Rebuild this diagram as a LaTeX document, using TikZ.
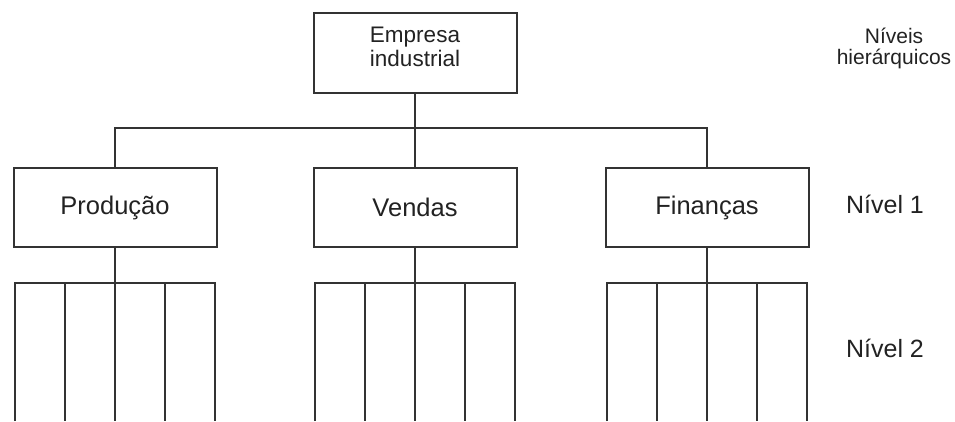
\documentclass[tikz,border=0pt]{standalone}
\usepackage{fontspec}
\setmainfont{Liberation Sans}
\definecolor{ln}{HTML}{333333}
\definecolor{tx}{HTML}{222222}
\begin{document}
\begin{tikzpicture}[x=1pt,y=-1pt,
  box/.style={draw=ln,line width=2pt,minimum width=203pt,minimum height=79pt,inner sep=0pt,text=tx,align=center},
  conn/.style={draw=ln,line width=2pt},
  lbl/.style={text=tx,align=center,inner sep=0pt}]
\useasboundingbox (0,0) rectangle (955,421);
\node[box,minimum width=203pt,minimum height=80pt] (top) at (415,53) {};
\node[lbl,font=\fontsize{22.5}{24}\selectfont] (topt) at (415,47) {Empresa\\industrial};
\node[box,font=\fontsize{25.5}{28}\selectfont] (p) at (115,207.5) {Produção};
\node[box,font=\fontsize{25.5}{28}\selectfont] (v) at (415,207.5) {Vendas};
\node[box,font=\fontsize{25.5}{28}\selectfont] (f) at (707,207.5) {Finanças};
\coordinate (hl) at (115,128);
\coordinate (hr) at (707,128);
\draw[conn] (top.south) -- (top.south |- hl);
\draw[conn] (p.north) -- (hl) -- (hr) -- (f.north);
\draw[conn] (v.north) -- (v.north |- hl);
% level 2
\foreach \n/\cx in {p/115, v/415, f/707} {
  \coordinate (\n-h) at (\cx,283);
  \draw[conn] (\n.south) -- (\n-h);
  \draw[conn] (\cx-100,421) -- (\cx-100,283) -- (\cx+100,283) -- (\cx+100,421);
  \foreach \dx in {-50,0,50} \draw[conn] (\cx+\dx,283) -- (\cx+\dx,421);
}
\node[lbl,font=\fontsize{21}{21}\selectfont] (nh) at (894,48) {Níveis\\hierárquicos};
\node[lbl,font=\fontsize{25}{27}\selectfont,anchor=base] (n1) at (885,213) {Nível 1};
\node[lbl,font=\fontsize{25}{27}\selectfont,anchor=base] (n2) at (885,357) {Nível 2};
\end{tikzpicture}
\end{document}
